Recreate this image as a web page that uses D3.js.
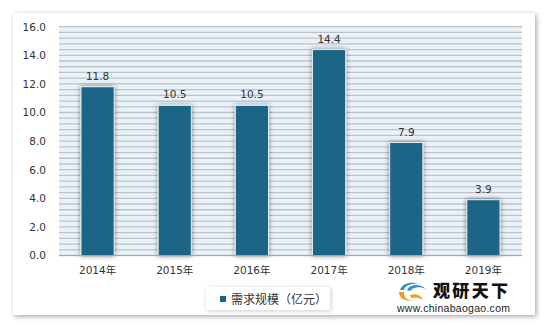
<!DOCTYPE html>
<html>
<head>
<meta charset="utf-8">
<script src="https://cdn.jsdelivr.net/npm/d3@7"></script>
<style>
body{margin:0;background:#fff;}
svg{display:block;}
</style>
</head>
<body>
<svg width="545" height="326"></svg>
<script>
var years = ['2014年','2015年','2016年','2017年','2018年','2019年'];
var values = [11.8, 10.5, 10.5, 14.4, 7.9, 3.9];
var yTicks = [0,2,4,6,8,10,12,14,16];
var seriesName = '需求规模（亿元）';

var plot = {left:59, right:522, top:26.7, bottom:255.5};
var svg = d3.select('svg');

var defs = svg.append('defs');
var f1 = defs.append('filter').attr('id','frameShadow').attr('x','-5%').attr('y','-5%').attr('width','110%').attr('height','110%');
f1.append('feDropShadow').attr('dx',1.5).attr('dy',1.5).attr('stdDeviation',2.5).attr('flood-color','#000').attr('flood-opacity',0.35);
var f2 = defs.append('filter').attr('id','barShadow').attr('x','-40%').attr('y','-10%').attr('width','180%').attr('height','120%');
f2.append('feDropShadow').attr('dx',0).attr('dy',0).attr('stdDeviation',2.5).attr('flood-color','#000').attr('flood-opacity',0.45);
var f3 = defs.append('filter').attr('id','legShadow').attr('x','-10%').attr('y','-30%').attr('width','120%').attr('height','160%');
f3.append('feDropShadow').attr('dx',1).attr('dy',1).attr('stdDeviation',2).attr('flood-color','#000').attr('flood-opacity',0.2);

// outer frame
svg.append('rect')
    .attr('x',13).attr('y',13).attr('width',522).attr('height',302)
    .attr('fill','#fff')
    .attr('filter','url(#frameShadow)');

var x = d3.scaleBand()
    .domain(years)
    .range([plot.left, plot.right])
    .paddingInner(0.57)
    .paddingOuter(0.285);

var y = d3.scaleLinear()
    .domain([0,16])
    .range([plot.bottom, plot.top]);

// striped plot background
svg.append('rect')
    .attr('x',plot.left).attr('y',plot.top)
    .attr('width',plot.right-plot.left).attr('height',plot.bottom-plot.top)
    .attr('fill','#eaf2f9');

var stripes = d3.range(0, 16.01, 0.4);
svg.selectAll('.stripe')
    .data(stripes)
    .join('line')
    .attr('class','stripe')
    .attr('x1',plot.left).attr('x2',plot.right)
    .attr('y1',d => y(d)).attr('y2',d => y(d))
    .attr('stroke','#bfc3c7')
    .attr('stroke-width',1.3);

// bars
svg.selectAll('.bar')
    .data(values)
    .join('rect')
    .attr('class','bar')
    .attr('x',(d,i) => x(years[i]))
    .attr('y',d => y(d))
    .attr('width',x.bandwidth())
    .attr('height',d => y(0)-y(d))
    .attr('fill','#1b6586')
    .attr('stroke','#e4edf3')
    .attr('stroke-width',1)
    .attr('filter','url(#barShadow)');

// baseline
svg.append('line')
    .attr('x1',plot.left).attr('x2',plot.right)
    .attr('y1',y(0)).attr('y2',y(0))
    .attr('stroke','#a6a6a6')
    .attr('stroke-width',1.2);

// value labels
svg.selectAll('.val')
    .data(values)
    .join('text')
    .attr('class','val')
    .attr('x',(d,i) => x(years[i]) + x.bandwidth()/2)
    .attr('y',d => y(d) - 7)
    .attr('text-anchor','middle')
    .attr('font-family','DejaVu Sans')
    .attr('font-size','10.5px')
    .attr('fill','#333')
    .text(d => d.toFixed(1));

// y axis
var yAxis = d3.axisLeft(y).tickValues(yTicks).tickFormat(d3.format('.1f')).tickSize(0).tickPadding(13);
var gy = svg.append('g').attr('transform','translate(' + plot.left + ',0)').call(yAxis);
gy.select('.domain').remove();
gy.selectAll('text')
    .attr('font-family','DejaVu Sans')
    .attr('font-size','10.5px')
    .attr('fill','#333');

// x axis
var xAxis = d3.axisBottom(x).tickSize(0).tickPadding(11);
var gx = svg.append('g').attr('transform','translate(0,' + plot.bottom + ')').call(xAxis);
gx.select('.domain').remove();
gx.selectAll('text')
    .attr('font-family','DejaVu Sans, Noto Sans CJK SC')
    .attr('font-size','10.5px')
    .attr('fill','#333');

// legend
svg.append('rect')
    .attr('x',206).attr('y',287).attr('width',124).attr('height',23)
    .attr('fill','#fff')
    .attr('filter','url(#legShadow)');
svg.append('rect')
    .attr('x',220).attr('y',296).attr('width',6).attr('height',6)
    .attr('fill','#1b6586');
svg.append('text')
    .attr('x',231).attr('y',303.5)
    .attr('font-family','Noto Sans CJK SC')
    .attr('font-size','12px')
    .attr('fill','#333')
    .text(seriesName);

// logo
var logo = svg.append('g');
logo.append('path')
    .attr('d','M399,292 C399,299 407,302 414,300 C409,301 403,298 404,292 Z')
    .attr('fill','#f39a1e');
logo.append('path')
    .attr('d','M400,290 C402,283 412,281 419,284 C412,283 405,285 404,290 Z')
    .attr('fill','#2e8fc9');
logo.append('path')
    .attr('d','M407,290 C410,284 420,283 426,289 C420,286 413,287 410,291 Z')
    .attr('fill','#2e8fc9');
logo.append('path')
    .attr('d','M410,295 C416,293 421,295 423,300 C419,297 414,297 411,298 Z')
    .attr('fill','#f39a1e');
logo.append('text')
    .attr('x',433).attr('y',297)
    .attr('font-family','Noto Sans CJK SC')
    .attr('font-weight','900')
    .attr('font-size','17px')
    .attr('fill','#111')
    .attr('textLength',75)
    .text('观研天下');
logo.append('text')
    .attr('x',397).attr('y',312)
    .attr('font-family','Liberation Sans')
    .attr('font-size','10.5px')
    .attr('fill','#222')
    .attr('textLength',113)
    .text('www.chinabaogao.com');
</script>
</body>
</html>
